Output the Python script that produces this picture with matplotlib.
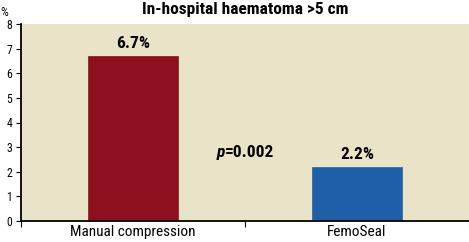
import matplotlib.pyplot as plt

groups = ["Manual compression", "FemoSeal"]
values = [6.7, 2.2]
labels = ["6.7%", "2.2%"]
colors = ["#8E0F1E", "#1F5FAA"]
yticks = [0, 1, 2, 3, 4, 5, 6, 7, 8]

plt.rcParams["font.family"] = ["Roboto Condensed", "DejaVu Sans"]

fig = plt.figure(figsize=(4.69, 2.42), dpi=100)
ax = fig.add_axes([21 / 469, 1 - 221 / 242, 448 / 469, 197 / 242])
ax.set_facecolor("#E9E4C8")

pos = [0.5, 1.5]
ax.bar(pos, values, width=0.4, color=colors, edgecolor=colors, linewidth=0.5)
for x, v, t in zip(pos, values, labels):
    ax.text(x, v + 0.2, t, ha="center", va="bottom", fontsize=12.5, fontweight="bold")

# p value, italic p
ax.text(0.91, 2.8, "p", ha="right", va="center", fontsize=12.5, fontweight="bold",
        fontstyle="italic")
ax.text(0.91, 2.8, "=0.002", ha="left", va="center", fontsize=12.5, fontweight="bold")

ax.set_xlim(0, 2)
ax.set_ylim(0, 8)
ax.set_yticks(yticks)
ax.tick_params(axis="y", labelsize=8.5, length=3.5, pad=3)
ax.set_xticks([0, 1, 2])
ax.set_xticklabels([])
ax.set_xticks(pos, minor=True)
ax.set_xticklabels(groups, minor=True, fontsize=11)
ax.tick_params(axis="x", which="major", length=4.5, direction="out")
ax.tick_params(axis="x", which="minor", length=0, pad=3)
for s in ["top", "right"]:
    ax.spines[s].set_visible(False)
ax.spines["left"].set_linewidth(1.3)
ax.spines["bottom"].set_linewidth(1.3)

fig.text(245 / 469, 1 - 2 / 242, "In-hospital haematoma >5 cm", ha="center", va="top",
         fontsize=12.5, fontweight="bold")
fig.text(0, 1 - 13 / 242, "%", ha="left", va="center", fontsize=9)

fig.savefig("out.png", dpi=100)
